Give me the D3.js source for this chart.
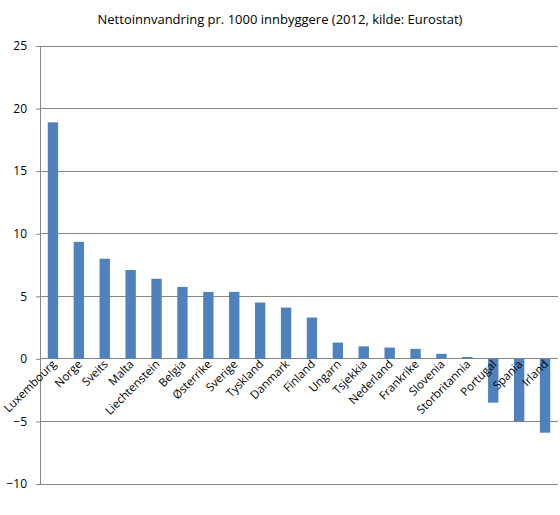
<!DOCTYPE html>
<html><head><meta charset="utf-8">
<script src="https://cdn.jsdelivr.net/npm/d3@7"></script>
<style>body{margin:0;background:#fff}text{font-family:"Open Sans","Liberation Sans",sans-serif}</style>
</head><body><svg id="c" width="560" height="515"></svg>
<script>
const categories=["Luxembourg","Norge","Sveits","Malta","Liechtenstein","Belgia","Østerrike","Sverige","Tyskland","Danmark","Finland","Ungarn","Tsjekkia","Nederland","Frankrike","Slovenia","Storbritannia","Portugal","Spania","Irland"];
const values=[18.9,9.35,8.0,7.1,6.4,5.75,5.35,5.35,4.5,4.1,3.3,1.3,1.0,0.9,0.8,0.4,0.15,-3.5,-5.0,-5.9];
const yTicks=[-10,-5,0,5,10,15,20,25];
const title="Nettoinnvandring pr. 1000 innbyggere (2012, kilde: Eurostat)";
const svg=d3.select("#c");
const x=d3.scaleBand().domain(categories).range([40,558]).paddingInner(0.6).paddingOuter(0.3);
const y=d3.scaleLinear().domain([-10,25]).range([484,46]);
svg.append("g").selectAll("line").data(yTicks).join("line")
 .attr("x1",40).attr("x2",558).attr("y1",d=>y(d)).attr("y2",d=>y(d)).attr("stroke","#868686").attr("stroke-width",1).attr("shape-rendering","crispEdges");
const ya=svg.append("g").attr("transform","translate(40,0)").call(d3.axisLeft(y).tickValues(yTicks).tickSize(4).tickFormat(d3.format("d")));
ya.select(".domain").attr("stroke","#868686");ya.selectAll("line").attr("stroke","#868686");
ya.selectAll("text").attr("font-size",12).attr("fill","#000").attr("dx",-6);
svg.append("g").selectAll("rect").data(values).join("rect")
 .attr("x",(d,i)=>x(categories[i])).attr("width",x.bandwidth())
 .attr("y",d=>y(Math.max(0,d))).attr("height",d=>Math.abs(y(d)-y(0))).attr("fill","#4f81bd");
svg.append("g").selectAll("text").data(categories).join("text")
 .attr("transform",d=>`translate(${x(d)+x.bandwidth()/2+4},${y(0)+6}) rotate(-45)`)
 .attr("text-anchor","end").attr("font-size",11.5).text(d=>d);
svg.append("text").attr("x",280).attr("y",24).attr("text-anchor","middle").attr("font-size",13).text(title);
</script></body></html>
